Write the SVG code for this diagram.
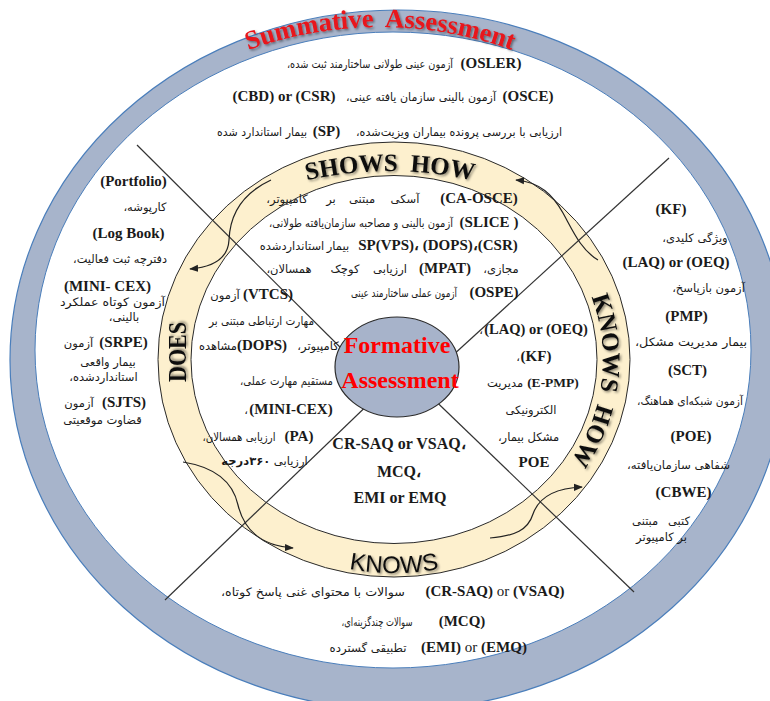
<svg xmlns="http://www.w3.org/2000/svg" width="770" height="701" viewBox="0 0 770 701">
<defs>
<style>
.fa{font-family:"DejaVu Sans",sans-serif;font-size:11.5px;fill:#1a1a1a;direction:rtl;text-anchor:middle}
.la{font-family:"Liberation Serif",serif;font-weight:bold;font-size:15px;fill:#1a1a1a;text-anchor:middle}
.big{font-size:16px}
.nw{font-weight:normal}
.lvl{font-family:"Liberation Serif",serif;font-weight:bold;font-size:25px;fill:#111;filter:url(#sh);text-anchor:middle}
.red{font-family:"Liberation Serif",serif;font-weight:bold;font-size:24px;fill:#f00;text-anchor:middle}
.edge{stroke:#2a2a2a;stroke-width:1}
.conn{stroke:#333;stroke-width:1.2;fill:none}
.arr{stroke:#222;stroke-width:1.2;fill:none;marker-end:url(#ah)}
</style>
<filter id="sh" x="-10%" y="-30%" width="130%" height="170%"><feDropShadow dx="1.5" dy="1.5" stdDeviation="1.2" flood-color="#000" flood-opacity="0.45"/></filter>
<marker id="ah" viewBox="0 0 10 10" refX="9" refY="5" markerWidth="9" markerHeight="9" orient="auto" markerUnits="userSpaceOnUse"><path d="M0,1 L10,5 L0,9 Z" fill="#222"/></marker>
<path id="pSum" d="M25,347 A355,320 0 0 1 735,347"/>
<path id="pShows" d="M90,411 A300,240 0 0 1 690,411"/>
<path id="pKH" d="M394,169.5 A209,190 0 0 1 394,549.5"/>
<path id="pK" d="M162,359.5 A232,213.5 0 0 0 626,359.5"/>
</defs>

<g id="summative-ring">
<ellipse cx="398" cy="360" rx="388" ry="350" fill="#A7B4CB" stroke="#4A7EBB" stroke-width="1.2"/>
<ellipse cx="393" cy="350" rx="358" ry="318" fill="#fff" stroke="#4A7EBB" stroke-width="1"/>
</g>
<g id="level-ring">
<ellipse cx="394" cy="359.5" rx="236" ry="217.5" fill="#FDF0CE" class="edge"/>
<ellipse cx="394" cy="359.5" rx="203" ry="184" fill="#fff" class="edge"/>
</g>

<g id="connectors">
<line class="conn" x1="137" y1="145" x2="360" y2="367"/>
<line class="conn" x1="420" y1="386" x2="634" y2="592"/>
<line class="conn" x1="669" y1="158" x2="440" y2="367"/>
<line class="conn" x1="380" y1="393" x2="165" y2="600"/>
<path class="arr" d="M271,180 C245,192 230,212 229,240 C228,258 214,267 190,269"/>
<path class="arr" d="M183,462 C214,467 233,482 238,505 C244,530 262,546 293,548"/>
<path class="arr" d="M490,538 C515,536 528,530 533,514 C539,497 556,488 582,487"/>
<path class="arr" d="M598,260 C581,250 573,231 563,213 C553,195 540,182 516,180"/>
</g>

<g id="formative">
<ellipse cx="397" cy="367" rx="62" ry="50" fill="#A7B3CA" stroke="#2b2b2b" stroke-width="1.2"/>
<text class="red" x="397" y="353">Formative</text>
<text class="red" x="400" y="388">Assessment</text>
</g>

<g id="summative">
<text class="lvl" style="fill:#E8141A;font-size:26.5px;word-spacing:6px"><textPath href="#pSum" startOffset="50%">Summative Assessment</textPath></text>
<text class="la" x="491" y="68">(OSLER)</text>
<text class="fa" x="370" y="68" textLength="166" lengthAdjust="spacingAndGlyphs">آزمون عینی طولانی ساختارمند ثبت شده،</text>
<text class="la" x="528" y="101">(OSCE)</text>
<text class="fa" x="421" y="101" textLength="150" lengthAdjust="spacingAndGlyphs">آزمون بالینی سازمان یافته عینی،</text>
<text class="la" x="284" y="101">(CBD) or (CSR)</text>
<text class="fa" x="459" y="136" textLength="206" lengthAdjust="spacingAndGlyphs">ارزیابی با بررسی پرونده بیماران ویزیت‌شده،</text>
<text class="la" x="326.5" y="136">(SP)</text>
<text class="fa" x="262" y="136" textLength="90" lengthAdjust="spacingAndGlyphs">بیمار استاندارد شده</text>
</g>

<g id="shows-how">
<text class="lvl" style="word-spacing:6px"><textPath href="#pShows" startOffset="50%">SHOWS HOW</textPath></text>
<text class="la" x="479" y="203">(CA-OSCE)</text>
<text class="fa" y="203"><tspan x="405">آسکی</tspan><tspan x="362">مبتنی</tspan><tspan x="331">بر</tspan><tspan x="287">کامپیوتر،</tspan></text>
<text class="la" x="489" y="227">(SLICE )</text>
<text class="fa" x="361" y="227" textLength="184" lengthAdjust="spacingAndGlyphs">آزمون بالینی و مصاحبه سازمان‌یافته طولانی،</text>
<text class="la" x="438" y="250">SP(VPS)، (DOPS)،(CSR)</text>
<text class="fa" y="250"><tspan x="338">بیمار</tspan><tspan x="292">استانداردشده</tspan></text>
<text class="fa" x="501" y="273">مجازی،</text>
<text class="la" x="445" y="273">(MPAT)</text>
<text class="fa" y="273"><tspan x="390">ارزیابی</tspan><tspan x="345">کوچک</tspan><tspan x="289">همسالان،</tspan></text>
<text class="la" x="494" y="297">(OSPE)</text>
<text class="fa" x="404" y="297" textLength="106" lengthAdjust="spacingAndGlyphs">آزمون عملی ساختارمند عینی</text>
</g>

<g id="does">
<text class="lvl" transform="translate(186,352) rotate(-90)" textLength="60" lengthAdjust="spacingAndGlyphs" x="0" y="0">DOES</text>
<text class="la" x="268" y="299">(VTCS)</text>
<text class="fa" x="225" y="299">آزمون</text>
<text class="fa" x="261.5" y="325" textLength="105" lengthAdjust="spacingAndGlyphs">مهارت ارتباطی مبتنی بر</text>
<text class="fa" x="318" y="350">کامپیوتر،</text>
<text class="la" x="262" y="350">(DOPS)</text>
<text class="fa" x="218" y="350">مشاهده</text>
<text class="fa" x="286.5" y="385" textLength="93" lengthAdjust="spacingAndGlyphs">مستقیم مهارت عملی،</text>
<text class="fa" x="246" y="414">،</text>
<text class="la" x="291" y="414">(MINI-CEX)</text>
<text class="la" x="299" y="441">(PA)</text>
<text class="fa" x="239" y="441" textLength="73" lengthAdjust="spacingAndGlyphs">ارزیابی همسالان،</text>
<text class="fa" x="264.5" y="465">ارزیابی <tspan font-weight="bold">۳۶۰درجه</tspan></text>
<text class="la" x="133.5" y="186">(Portfolio)</text>
<text class="fa" x="145" y="211">کارپوشه،</text>
<text class="la" x="128.5" y="238">(Log Book)</text>
<text class="fa" x="120" y="263" textLength="94" lengthAdjust="spacingAndGlyphs">دفترچه ثبت فعالیت،</text>
<text class="la" x="107.5" y="291">(MINI- CEX)</text>
<text class="fa" x="112.5" y="306" textLength="105" lengthAdjust="spacingAndGlyphs">آزمون کوتاه عملکرد</text>
<text class="fa" x="124" y="321">بالینی،</text>
<text class="la" x="123.5" y="347">(SRPE)</text>
<text class="fa" x="78.5" y="347">آزمون</text>
<text class="fa" x="108" y="366">بیمار واقعی</text>
<text class="fa" x="103.5" y="381">استانداردشده،</text>
<text class="la" x="124" y="407">(SJTS)</text>
<text class="fa" x="79" y="407">آزمون</text>
<text class="fa" x="102.5" y="424">قضاوت موقعیتی</text>
</g>

<g id="knows-how">
<text class="lvl" style="word-spacing:6px"><textPath href="#pKH" startOffset="53.5%">KNOWS HOW</textPath></text>
<text class="fa" x="481" y="334">،</text>
<text class="la" x="536" y="334" style="font-size:14.5px">(LAQ) or (OEQ)</text>
<text class="fa" x="518" y="361">،</text>
<text class="la" x="536" y="361">(KF)</text>
<text class="la" x="553" y="387" style="font-size:13.5px">(E-PMP)</text>
<text class="fa" x="505" y="387">مدیریت</text>
<text class="fa" x="531" y="414">الکترونیکی</text>
<text class="fa" x="528.5" y="441">مشکل بیمار،</text>
<text class="la" x="534" y="467">POE</text>
<text class="la" x="671" y="214">(KF)</text>
<text class="fa" x="695" y="242">ویژگی کلیدی،</text>
<text class="la" x="676" y="267">(LAQ) or (OEQ)</text>
<text class="fa" x="708.5" y="292">آزمون بازپاسخ،</text>
<text class="la" x="686.5" y="321">(PMP)</text>
<text class="fa" x="691" y="346" textLength="112" lengthAdjust="spacingAndGlyphs">بیمار مدیریت مشکل،</text>
<text class="la" x="687.5" y="375">(SCT)</text>
<text class="fa" x="690" y="405" textLength="106" lengthAdjust="spacingAndGlyphs">آزمون شبکه‌ای هماهنگ،</text>
<text class="la" x="691" y="441">(POE)</text>
<text class="fa" x="678.5" y="469" textLength="103" lengthAdjust="spacingAndGlyphs">شفاهی سازمان‌یافته،</text>
<text class="la" x="683.5" y="497">(CBWE)</text>
<text class="fa" x="661" y="525" style="word-spacing:6px">کتبی مبتنی</text>
<text class="fa" x="661.5" y="541">بر کامپیوتر</text>
</g>

<g id="knows">
<text style="font-family:'Liberation Sans',sans-serif;font-size:24px;fill:#111;text-anchor:middle;filter:url(#sh)"><textPath href="#pK" startOffset="50%">KNOWS</textPath></text>
<text class="la big" x="399" y="449">CR-SAQ or VSAQ،</text>
<text class="la big" x="399" y="477">MCQ،</text>
<text class="la big" x="400" y="503">EMI or EMQ</text>
<text class="la" x="495" y="596">(CR-SAQ) <tspan class="nw">or</tspan> (VSAQ)</text>
<text class="fa" x="313" y="596" textLength="184" lengthAdjust="spacingAndGlyphs">سوالات با محتوای غنی پاسخ کوتاه،</text>
<text class="la" x="462" y="626">(MCQ)</text>
<text class="fa" x="377" y="626" textLength="71" lengthAdjust="spacingAndGlyphs">سوالات چندگزینه‌ای،</text>
<text class="la" x="474" y="652">(EMI) <tspan class="nw">or</tspan> (EMQ)</text>
<text class="fa" x="368" y="652" textLength="77" lengthAdjust="spacingAndGlyphs">تطبیقی گسترده</text>
</g>
</svg>
